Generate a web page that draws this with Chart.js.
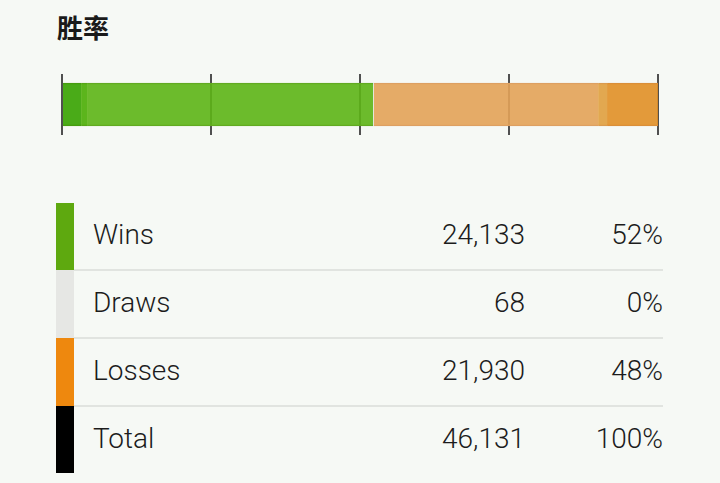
<!DOCTYPE html>
<html>
<head>
<meta charset="utf-8">
<script src="https://cdn.jsdelivr.net/npm/chart.js@4/dist/chart.umd.min.js"></script>
<style>
  html, body { margin: 0; padding: 0; background: #f6f9f5; width: 720px; height: 483px; overflow: hidden; }
  #title { position: absolute; left: 57px; top: 8px; font: bold 26px "Noto Sans CJK SC", sans-serif; color: #1a1a1a; }
  #barWrap { position: absolute; left: 0; top: 60px; width: 720px; height: 90px; }
  #stats { position: absolute; left: 56px; top: 203px; width: 607px; border-collapse: collapse; font-family: Roboto, sans-serif; font-weight: 300; font-size: 28px; color: #1c1c1c; }
  #stats td { height: 62px; padding: 0 0 4px 0; }
  #stats td.swatch { width: 18px; }
  #stats td.name { padding-left: 19px; }
  #stats td.num { text-align: right; width: 200px; }
  #stats td.pct { text-align: right; width: 138px; }
  #stats tr + tr td:not(.swatch) { border-top: 2px solid #e1e4e0; }
</style>
</head>
<body>
<div id="title">胜率</div>
<div id="barWrap"><canvas id="rateBar"></canvas></div>
<table id="stats"></table>
<script>
// bar segments, percent of all games
var segmentNames = ["Wins a", "Wins b", "Wins c", "Draws", "Losses a", "Losses b", "Losses c"];
var segmentValues = [3.2, 1.0, 48.0, 0.15, 37.6, 1.5, 8.55];
var segmentColors = ["rgba(55,162,0,0.9)", "rgba(75,173,4,0.9)", "rgba(93,180,22,0.9)", "rgba(228,229,225,0.9)",
    "rgba(227,162,88,0.9)", "rgba(224,158,62,0.9)", "rgba(225,143,38,0.9)"];
var segmentBorders = ["#4c9a14", "#5aa41c", "#64a826", "#d8d8d8", "#dba066", "#d99a55", "#d99040"];

// table
var rowLabels = ["Wins", "Draws", "Losses", "Total"];
var rowCounts = ["24,133", "68", "21,930", "46,131"];
var rowPercents = ["52%", "0%", "48%", "100%"];
var rowColors = ["#5ea90f", "#e6e7e4", "#ee880e", "#000000"];

var datasets = segmentNames.map((name, i) => ({
    label: name,
    data: [segmentValues[i]],
    backgroundColor: segmentColors[i],
    borderColor: segmentBorders[i],
    borderWidth: { top: 1, bottom: 1, left: 0, right: 0 },
    borderSkipped: false,
    barThickness: 43
}));

new Chart(document.getElementById("rateBar"), {
    type: "bar",
    data: { labels: [""], datasets: datasets },
    options: {
        indexAxis: "y",
        responsive: true,
        maintainAspectRatio: false,
        animation: false,
        layout: { padding: { left: 62, right: 62, top: 14, bottom: 15 } },
        plugins: { legend: { display: false }, tooltip: { enabled: false } },
        scales: {
            x: {
                stacked: true,
                min: 0,
                max: 100,
                ticks: { display: false, stepSize: 25 },
                grid: { color: "#505050", lineWidth: 2, drawTicks: false },
                border: { display: false }
            },
            y: {
                stacked: true,
                display: false
            }
        }
    }
});

var rowsHtml = "";
rowLabels.forEach((label, i) => {
    rowsHtml += `<tr><td class="swatch" style="background:${rowColors[i]}"></td>` +
        `<td class="name">${label}</td><td class="num">${rowCounts[i]}</td><td class="pct">${rowPercents[i]}</td></tr>`;
});
document.getElementById("stats").innerHTML = rowsHtml;
</script>
</body>
</html>
